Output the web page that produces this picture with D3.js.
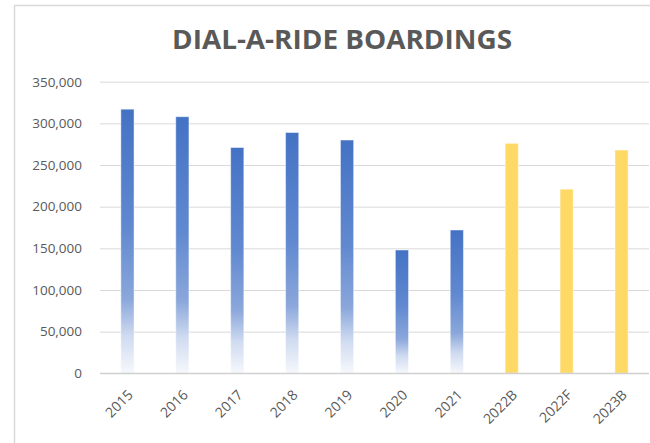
<!DOCTYPE html>
<html><head><meta charset="utf-8">
<script src="https://cdn.jsdelivr.net/npm/d3@7"></script>
<style>body{margin:0;background:#fff}svg{display:block}</style>
</head><body>
<svg id="c" width="650" height="443"></svg>
<script>
const categories = ["2015","2016","2017","2018","2019","2020","2021","2022B","2022F","2023B"];
const boardings = [317000,308000,271000,289000,280000,148000,172000,276000,221000,268000];
const budgeted = [false,false,false,false,false,false,false,true,true,true];
const yTicks = [0,50000,100000,150000,200000,250000,300000,350000];
const title = "DIAL-A-RIDE BOARDINGS";

const svg = d3.select("#c");
const W = 650, H = 443;
const m = {left:100, right:1, top:82, bottom:70};
const x = d3.scaleBand().domain(categories).range([m.left, W - m.right]).paddingInner(0.76).paddingOuter(0.38);
const y = d3.scaleLinear().domain([0,350000]).range([373.3, 81.7]);

// frame
svg.append("rect").attr("x",14.5).attr("y",5.5).attr("width",W+10).attr("height",H+10)
  .attr("fill","#fff").attr("stroke","#d9d9d9").attr("stroke-width",1.5);

const defs = svg.append("defs");
const g = defs.append("linearGradient").attr("id","blueGrad")
  .attr("x1",0).attr("y1",0).attr("x2",0).attr("y2",1);
[[0,"#4472C4"],[0.45,"#6189D0"],[0.72,"#8BA7DB"],[0.86,"#CFDBF0"],[1,"#F6F8FC"]].forEach(s=>
  g.append("stop").attr("offset",s[0]).attr("stop-color",s[1]));

// title
svg.append("text").attr("x",342).attr("y",48.5).attr("text-anchor","middle")
  .attr("font-family","'Open Sans', sans-serif").attr("font-weight","bold")
  .attr("font-size",26).attr("fill","#595959")
  .attr("textLength",340).attr("lengthAdjust","spacingAndGlyphs").text(title);

// grid
const yAxis = d3.axisLeft(y).tickValues(yTicks).tickSize(-(W - m.right - m.left)).tickPadding(18)
  .tickFormat(d3.format(","));
const ga = svg.append("g").attr("transform",`translate(${m.left},0)`).call(yAxis);
ga.select(".domain").remove();
ga.selectAll(".tick line").attr("stroke","#d9d9d9").attr("stroke-width",1);
ga.selectAll(".tick text").attr("font-family","'Open Sans', sans-serif").attr("font-size",13.5)
  .attr("fill","#595959");

// bars
svg.append("g").selectAll("rect").data(categories).join("rect")
  .attr("x", d => x(d))
  .attr("width", x.bandwidth())
  .attr("y", (d,i) => y(boardings[i]))
  .attr("height", (d,i) => y(0) - y(boardings[i]))
  .attr("fill", (d,i) => budgeted[i] ? "#FFD966" : "url(#blueGrad)")
  .attr("stroke", "rgba(255,255,255,0.45)").attr("stroke-width",1);

// x axis line
svg.append("line").attr("x1",m.left).attr("x2",W - m.right).attr("y1",y(0)).attr("y2",y(0))
  .attr("stroke","#d0d0d0").attr("stroke-width",1.3);

// x labels
const xa = svg.append("g").attr("transform",`translate(0,${y(0)})`)
  .call(d3.axisBottom(x).tickSize(0).tickPadding(0));
xa.select(".domain").remove();
xa.selectAll(".tick text")
  .attr("font-family","'Open Sans', sans-serif").attr("font-size",14).attr("fill","#595959")
  .attr("text-anchor","end")
  .attr("transform","translate(3,19) rotate(-45)")
  .attr("dy","0.35em");
</script>
</body></html>
